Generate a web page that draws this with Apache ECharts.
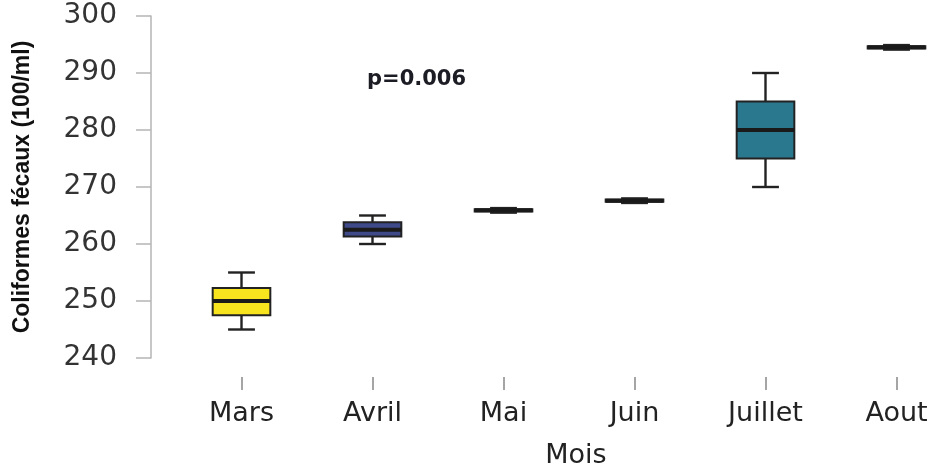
<!DOCTYPE html>
<html><head><meta charset="utf-8">
<script src="https://cdn.jsdelivr.net/npm/echarts@6/dist/echarts.min.js"></script>
<style>html,body{margin:0;padding:0;background:#fff}#c{width:938px;height:468px}</style>
</head><body><div id="c"></div>
<script>
const months = ['Mars', 'Avril', 'Mai', 'Juin', 'Juillet', 'Aout'];
const whiskerLow  = [245,   260,   265.5, 267.2, 270, 294.1];
const q1          = [247.5, 261.3, 265.7, 267.4, 275, 294.3];
const median      = [250,   262.5, 265.9, 267.6, 280, 294.5];
const q3          = [252.3, 263.8, 266.1, 267.8, 285, 294.7];
const whiskerHigh = [255,   265,   266.3, 268.0, 290, 294.9];
const boxColors = ['#F7E41F', '#3E4A89', '#22A884', '#7AD151', '#2A788E', '#440154'];
const yMin = 240, yMax = 300, yStep = 10;
const pLabel = 'p=0.006';
const xTitle = 'Mois';
const yTitle = 'Coliformes fécaux (100/ml)';

const chart = echarts.init(document.getElementById('c'), null, {renderer: 'canvas'});

function renderItem(params, api) {
  const idx = api.value(0);
  const lo = api.coord([idx, api.value(1)]);
  const b1 = api.coord([idx, api.value(2)]);
  const md = api.coord([idx, api.value(3)]);
  const b3 = api.coord([idx, api.value(4)]);
  const hi = api.coord([idx, api.value(5)]);
  const band = api.size([1, 0])[0];
  const bw = band * 0.44, cw = band * 0.205;
  const x = lo[0];
  const stroke = '#222';
  const ls = {stroke: stroke, lineWidth: 2.4};
  return {
    type: 'group',
    children: [
      {type: 'line', shape: {x1: x, y1: hi[1], x2: x, y2: b3[1]}, style: ls},
      {type: 'line', shape: {x1: x, y1: b1[1], x2: x, y2: lo[1]}, style: ls},
      {type: 'line', shape: {x1: x - cw / 2, y1: hi[1], x2: x + cw / 2, y2: hi[1]}, style: ls},
      {type: 'line', shape: {x1: x - cw / 2, y1: lo[1], x2: x + cw / 2, y2: lo[1]}, style: ls},
      {type: 'rect', shape: {x: x - bw / 2, y: b3[1], width: bw, height: b1[1] - b3[1]},
        style: {fill: boxColors[idx], stroke: stroke, lineWidth: 2}},
      {type: 'line', shape: {x1: x - bw / 2, y1: md[1], x2: x + bw / 2, y2: md[1]},
        style: {stroke: '#1a1a1a', lineWidth: 4}}
    ]
  };
}

const labelFont = "'DejaVu Sans', sans-serif";

chart.setOption({
  animation: false,
  backgroundColor: '#fff',
  title: {
    text: pLabel, left: 367, top: 69, padding: 0,
    textStyle: {fontFamily: labelFont, fontWeight: 'bold', fontSize: 21, color: '#1c1c24'}
  },
  grid: {left: 176, width: 786, top: 16, bottom: 110, containLabel: false, outerBoundsMode: 'none'},
  xAxis: {
    type: 'category',
    data: months,
    offset: 19,
    axisLine: {show: false},
    axisTick: {show: true, alignWithLabel: true, length: 13, lineStyle: {color: '#888', width: 1.5}},
    axisLabel: {margin: 23, fontFamily: labelFont, fontSize: 27, color: '#222'},
    name: xTitle,
    nameLocation: 'middle',
    nameGap: 65,
    nameTextStyle: {fontFamily: labelFont, fontSize: 27, color: '#222', padding: [0, 0, 0, 14]},
    splitLine: {show: false}
  },
  yAxis: {
    type: 'value',
    min: yMin, max: yMax, interval: yStep,
    offset: 25,
    axisLine: {show: true, lineStyle: {color: '#b5b5b5', width: 1.5}},
    axisTick: {show: true, length: 15, lineStyle: {color: '#b5b5b5', width: 1.5}},
    axisLabel: {margin: 34, fontFamily: labelFont, fontSize: 28, color: '#333'},
    splitLine: {show: false},
    name: yTitle,
    nameLocation: 'middle',
    nameRotate: 90,
    nameGap: 117,
    nameTextStyle: {fontFamily: "'Liberation Sans', Arial, sans-serif",
      fontWeight: 'bold', fontSize: 23, color: '#111'}
  },
  series: [{
    type: 'custom',
    renderItem: renderItem,
    encode: {x: 0, y: [1, 2, 3, 4, 5]},
    data: months.map((m, i) => [i, whiskerLow[i], q1[i], median[i], q3[i], whiskerHigh[i]])
  }]
});
</script>
</body></html>
